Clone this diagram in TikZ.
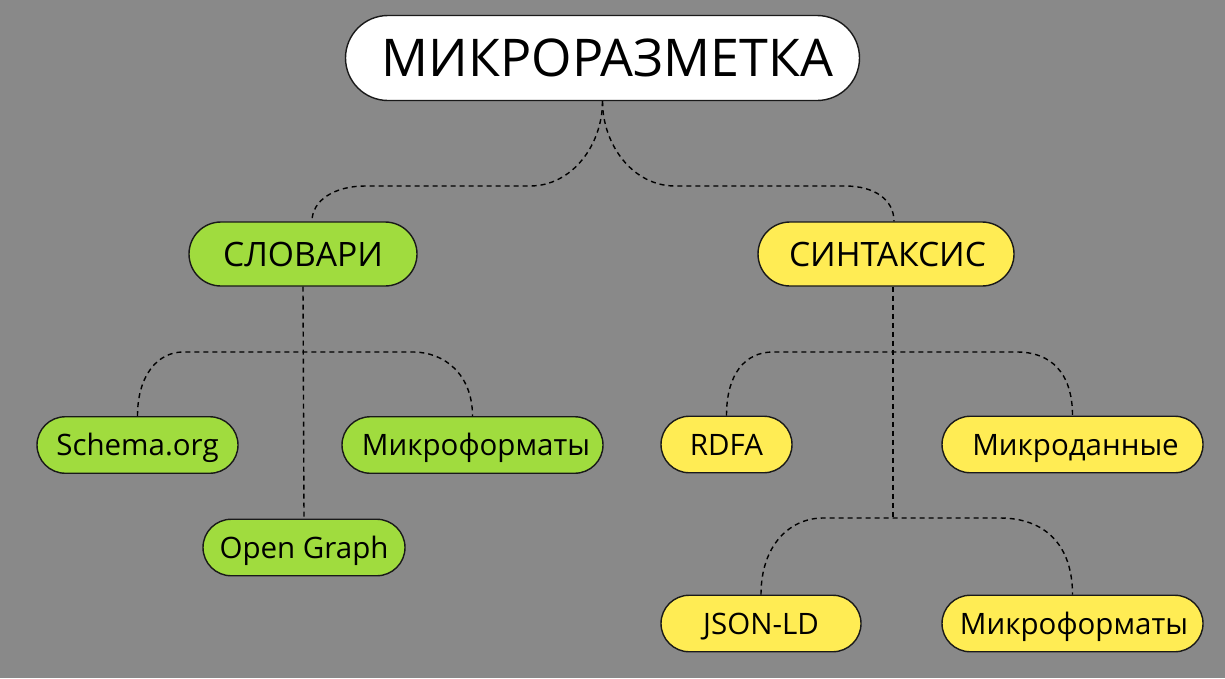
\documentclass[tikz,border=0pt]{standalone}
\usepackage{fontspec}
\setmainfont{Open Sans}
\usetikzlibrary{calc}
\definecolor{bggray}{RGB}{137,137,137}
\definecolor{pgreen}{RGB}{160,220,62}
\definecolor{pyellow}{RGB}{255,236,84}
\begin{document}
\begin{tikzpicture}[x=1pt,y=-1pt,
  pill/.style={draw=black!90, line width=1.4pt, inner sep=0pt, text depth=0pt},
  bigpill/.style={pill, fill=white, text height=37pt, font=\fontsize{52}{56}\selectfont,
    minimum height=85pt, rounded corners=42.5pt},
  midpill/.style={pill, text height=24pt, font=\fontsize{33.6}{36}\selectfont,
    minimum height=64pt, rounded corners=32pt},
  smallpill/.style={pill, text height=21pt, font=\fontsize{29.5}{32}\selectfont,
    minimum height=56.5pt, rounded corners=28.25pt},
  conn/.style={draw=black, line width=1.4pt, dash pattern=on 5pt off 4pt}]
\fill[bggray] (0,0) rectangle (1225,678);
\useasboundingbox (0,0) rectangle (1225,678);

% nodes
\node[bigpill, minimum width=514pt] (top) at (602.5,58) {\hspace*{10pt}МИКРОРАЗМЕТКА};
\node[midpill, fill=pgreen, minimum width=228pt] (slov) at (303,254) {СЛОВАРИ};
\node[midpill, fill=pyellow, minimum width=256pt] (sint) at (886,254) {\hspace*{3pt}СИНТАКСИС};
\node[smallpill, fill=pgreen, minimum width=201pt] (schema) at (137.5,445) {Schema.org};
\node[smallpill, fill=pgreen, minimum width=261pt] (micL) at (472.5,445) {\hspace*{7pt}Микроформаты};
\node[smallpill, fill=pgreen, minimum width=202pt] (og) at (304,547.5) {Open Graph};
\node[smallpill, fill=pyellow, minimum width=131pt] (rdfa) at (726.5,444.5) {RDFA};
\node[smallpill, fill=pyellow, minimum width=261pt] (micD) at (1072.5,444.5) {\hspace*{6pt}Микроданные};
\node[smallpill, fill=pyellow, minimum width=200pt] (json) at (761,623.5) {JSON-LD};
\node[smallpill, fill=pyellow, minimum width=261pt] (micR) at (1072.5,623.5) {\hspace*{3pt}Микроформаты};

% connectors
\draw[conn] (top.south) .. controls (602.5,145) and (572,186) .. (530,186) -- (365,186)
  .. controls (335,186) and (312,200) .. ($(slov.north)+(9,0)$);
\draw[conn] (top.south) .. controls (602.5,145) and (633,186) .. (675,186) -- (845,186)
  .. controls (875,186) and (894,200) .. ($(sint.north)+(8,0)$);

\draw[conn] (slov.south) -- (og.north);
\draw[conn] (schema.north) .. controls (137.5,375) and (158,352) .. (183,352) -- (413,352)
  .. controls (445,352) and (472.5,375) .. (micL.north);

\coordinate (j2) at (893,518);
\draw[conn] ($(sint.south)+(7,0)$) -- (j2);
\draw[conn] (rdfa.north) .. controls (726.5,374) and (745,352) .. (773,352) -- (1017,352)
  .. controls (1050,352) and (1072.5,372) .. (micD.north);
\draw[conn] (json.north) .. controls (761,545) and (790,518) .. (823,518) -- (1000,518)
  .. controls (1045,518) and (1072.5,545) .. (micR.north);
\end{tikzpicture}
\end{document}
